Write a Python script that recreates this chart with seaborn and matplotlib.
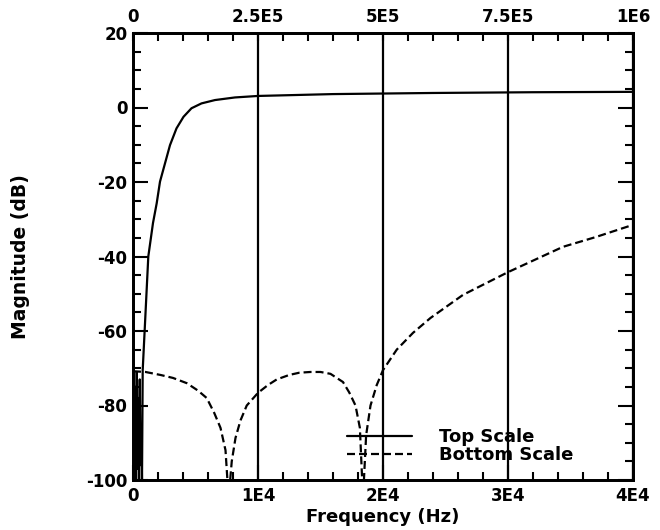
import matplotlib
matplotlib.use("Agg")
import matplotlib.pyplot as plt
from matplotlib.lines import Line2D
import seaborn as sns
import pandas as pd

# Bottom-scale response (Hz, dB)
bottom_freq = [0, 1000, 2200, 3200, 4300, 5200, 5900, 6500, 7000, 7400, 7650,
               7900, 8200, 8600, 9100, 10000, 10800, 11500, 12500, 13300, 14200,
               15000, 15800, 16800, 17300, 17800, 18150, 18400,
               18650, 19000, 19500, 20000, 21100, 22400, 23800, 26400, 30000,
               34400, 37000, 40000]
bottom_db = [-70.8, -71.0, -71.8, -72.6, -74.0, -76.0, -78.0, -82.0, -86.0, -92.0, -105.0,
             -95.0, -88.7, -84.0, -80.0, -76.6, -74.5, -73.0, -71.8, -71.2, -71.0,
             -71.0, -71.5, -73.7, -76.5, -80.0, -86.0, -105.0,
             -88.0, -80.0, -74.5, -70.5, -65.0, -60.5, -56.5, -50.3, -44.2,
             -37.4, -34.8, -31.5]

# Top-scale response (Hz, dB)
top_freq = [0, 1500, 3000, 4500, 6000, 7500, 9000, 10500, 12000, 13500, 15000,
            16500, 18000, 19400, 24000, 30600, 40000, 47400, 54000, 64000,
            74000, 87000, 101000, 117000, 137000, 164000, 204000, 250000,
            400000, 600000, 800000, 1000000]
top_db = [-100.0, -72.0, -98.0, -75.0, -100.0, -71.0, -97.0, -78.0, -100.0, -73.0, -96.0,
          -85.0, -100.0, -70.5, -58.0, -40.0, -31.0, -25.7, -19.9, -15.0,
          -10.1, -5.6, -2.5, -0.2, 1.1, 2.0, 2.7, 3.1,
          3.6, 3.9, 4.1, 4.2]

bottom_ticks = [0, 10000, 20000, 30000, 40000]
bottom_labels = ["0", "1E4", "2E4", "3E4", "4E4"]
top_ticks = [0, 250000, 500000, 750000, 1000000]
top_labels = ["0", "2.5E5", "5E5", "7.5E5", "1E6"]
y_ticks = [-100, -80, -60, -40, -20, 0, 20]
y_labels = ["-100", "-80", "-60", "-40", "-20", "0", "20"]
legend_labels = ["Top Scale", "Bottom Scale"]

sns.set_style("ticks")
plt.rcParams["font.family"] = ["DejaVu Sans"]
plt.rcParams["font.weight"] = "bold"
plt.rcParams["text.color"] = "black"
plt.rcParams["axes.labelcolor"] = "black"

fig = plt.figure(figsize=(6.6, 5.3), dpi=100)
ax = fig.add_axes([133 / 660, 1 - 480 / 530, 500 / 660, 447 / 530])

bottom_df = pd.DataFrame({"freq": bottom_freq, "db": bottom_db})
top_df = pd.DataFrame({"freq": top_freq, "db": top_db})

sns.lineplot(data=bottom_df, x="freq", y="db", ax=ax, color="black",
             linewidth=1.6, linestyle="--")
ax.lines[-1].set_dashes((3.6, 1.8))

ax.set_xlim(0, 40000)
ax.set_ylim(-100, 20)
ax.set_xticks(bottom_ticks)
ax.set_xticklabels(bottom_labels)
ax.set_xticks(range(0, 40001, 2000), minor=True)
ax.set_yticks(y_ticks)
ax.set_yticklabels(y_labels)
ax.set_yticks(range(-100, 21, 5), minor=True)
ax.grid(axis="x", which="major", color="black", linewidth=1.6)
ax.set_axisbelow(True)

ax2 = ax.twiny()
sns.lineplot(data=top_df, x="freq", y="db", ax=ax2, color="black",
             linewidth=1.6, sort=False)
ax2.set_xlim(0, 1000000)
ax2.set_xticks(top_ticks)
ax2.set_xticklabels(top_labels)
ax2.set_xticks(range(0, 1000001, 50000), minor=True)
ax2.set_xlabel("")

ax.set_xlabel("Frequency (Hz)", fontsize=13, fontweight="bold", color="black")
ax.set_ylabel("Magnitude (dB)", fontsize=13.5, fontweight="bold", color="black")
ax.xaxis.set_label_coords(0.5, -0.062)
ax.yaxis.set_label_coords(-0.205, 0.5)

for a in (ax, ax2):
    for s in a.spines.values():
        s.set_linewidth(2.0)
        s.set_color("black")

ax.tick_params(axis="both", which="both", direction="in", colors="black",
               labelsize=12, width=1.5, right=True, top=False)
ax.tick_params(axis="x", which="both", pad=5)
ax.tick_params(axis="y", which="both", pad=4)
ax.tick_params(axis="both", which="major", length=11)
ax.tick_params(axis="both", which="minor", length=6)
ax2.tick_params(axis="x", which="both", direction="in", colors="black",
                labelsize=12, width=1.5, pad=5)
ax2.tick_params(axis="x", which="major", length=6)
ax2.tick_params(axis="x", which="minor", length=6)
for lab in ax.get_xticklabels() + ax.get_yticklabels() + ax2.get_xticklabels():
    lab.set_fontweight("bold")

handles = [Line2D([], [], color="black", linewidth=1.6),
           Line2D([], [], color="black", linewidth=1.6, dashes=(3.6, 1.8))]
leg = fig.legend(handles, legend_labels, loc="center left",
                 bbox_to_anchor=(347 / 660, 1 - 446 / 530), frameon=False,
                 handlelength=3.6, handletextpad=1.5, labelspacing=0.0,
                 borderpad=0, borderaxespad=0,
                 prop={"size": 13, "weight": "bold"})
for t in leg.get_texts():
    t.set_color("black")

fig.savefig("out.png", dpi=100)
